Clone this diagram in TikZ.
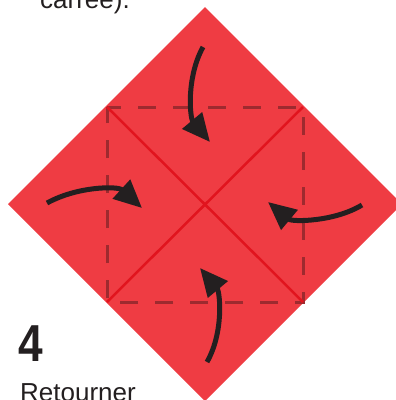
\documentclass[tikz,border=0pt]{standalone}
\usepackage{fontspec}
\setmainfont{Liberation Sans}
\usetikzlibrary{arrows.meta,calc,positioning}
\definecolor{rouge}{HTML}{EF3C43}
\definecolor{pli}{HTML}{E1141E}
\definecolor{tirets}{HTML}{9E2A2F}
\definecolor{encre}{HTML}{231F20}

\begin{document}
\begin{tikzpicture}[x=1pt, y=-1pt,
      fleche/.style={draw=encre, line width=5pt, -{Triangle[length=28pt,width=25pt]}},
      texte/.style={text=encre, inner sep=0pt, anchor=base west}]
    \useasboundingbox (0,0) rectangle (396,400);
    \clip (0,0) rectangle (396,400);
    % feuille
    \coordinate (centre) at (205,204);
    \fill[rouge] ($(centre)+(0,-197)$) -- ($(centre)+(197,0)$) -- ($(centre)+(0,197)$) -- ($(centre)+(-197,0)$) -- cycle;
    % carre en pointilles et plis
    \coordinate (hg) at (107,107);
    \coordinate (hd) at (303,107);
    \coordinate (bd) at (303,302);
    \coordinate (bg) at (107,302);
    \draw[tirets, line width=3pt, dash pattern=on 18pt off 17pt, dash phase=4pt] (hg) -- (hd) -- (bd) -- (bg) -- cycle;
    \draw[pli, line width=2.5pt] (hg) -- (bd) (hd) -- (bg);
    % fleches
    \coordinate (haut) at (203,47);
    \coordinate (gauche) at (47,203);
    \coordinate (droite) at (362,205);
    \coordinate (bas) at (207,362);
    \draw[fleche] (haut) .. controls (186,78) and (190,118) .. (210,142);
    \draw[fleche] (gauche) .. controls (78,186) and (118,186) .. (142,208);
    \draw[fleche] (droite) .. controls (334,222) and (292,222) .. (268,202);
    \draw[fleche] (bas) .. controls (224,332) and (220,292) .. (200,268);
    % textes
    \node[texte, font=\fontsize{26}{30}\selectfont] (suite) at (40,8) {carrée).};
    \node[texte, font=\bfseries\fontsize{52}{60}\selectfont, xscale=0.85] (etape) at (18,361) {4};
    \node[texte, font=\fontsize{26}{30}\selectfont] (consigne) at (20,401) {Retourner};
  \end{tikzpicture}
\end{document}
